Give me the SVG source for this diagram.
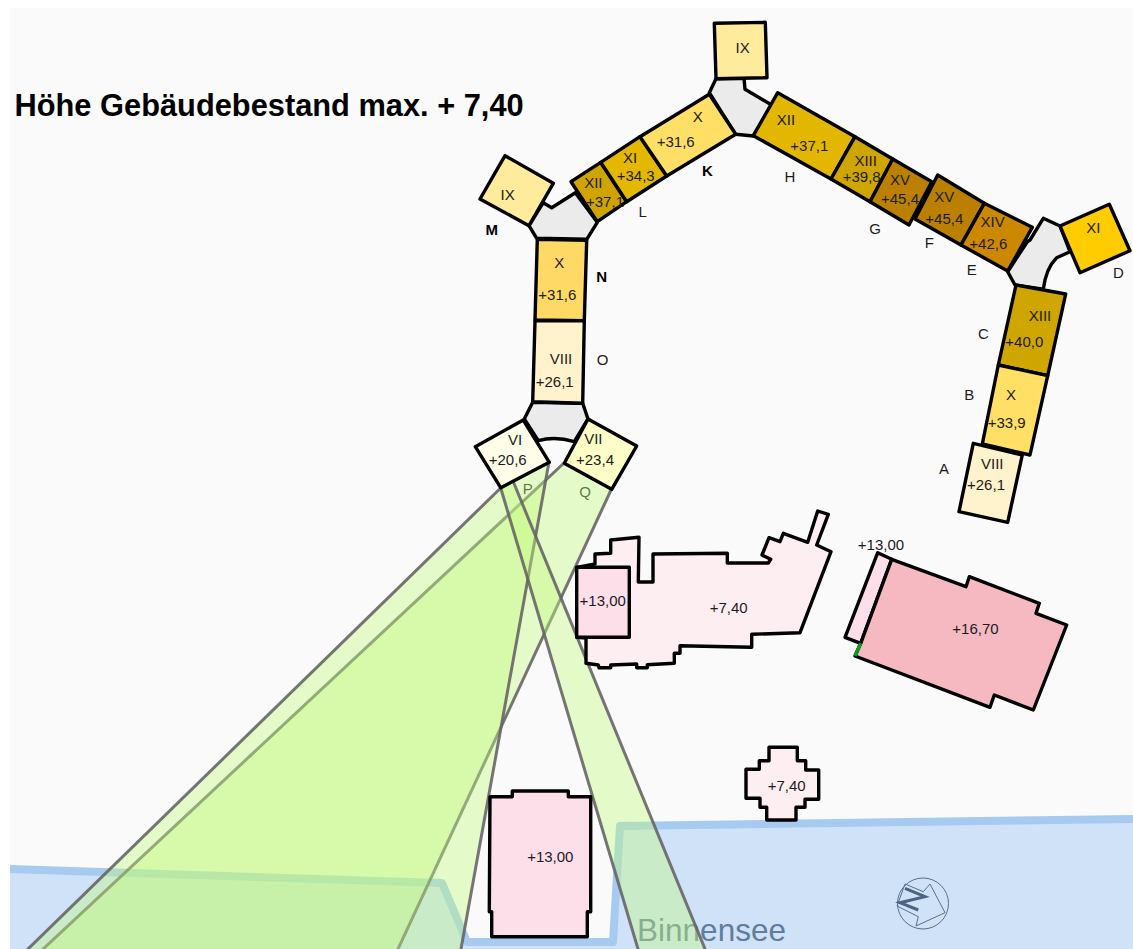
<svg xmlns="http://www.w3.org/2000/svg" width="1133" height="949" viewBox="0 0 1133 949">
<style>
.b{stroke:#000;stroke-width:3.4;stroke-linejoin:round}
.g{fill:#ebebeb;stroke:#000;stroke-width:3.4;stroke-linejoin:round}
.s{fill:#c3fb7d;fill-opacity:.4;stroke:#666;stroke-opacity:.9;stroke-width:3;stroke-linejoin:round}
text{font-family:"Liberation Sans",Arial,sans-serif;font-size:15px;fill:#1c1c1c;text-anchor:middle;dominant-baseline:central}
.l{font-size:15px}
.lb{font-size:15px;font-weight:bold;fill:#000}
.ix{fill:#ffeb9c}.x{fill:#ffdf66}.viii{fill:#fff3cd}
</style>
<rect width="1133" height="949" fill="#fff"/>
<rect x="10" y="8" width="1123" height="941" fill="#fafafa"/>
<g id="water">
<path d="M10 869L442 883L467 942L613 942L620 826L1133 819L1133 949L10 949Z" fill="#cfe2f8"/>
<path d="M10 869L442 883L467 942L613 942L620 826L1133 819" fill="none" stroke="#a6caf0" stroke-width="8" stroke-linejoin="round"/>
<text x="711.5" y="930" style="font-size:31.5px;fill:#5f7d9c">Binnensee</text>
</g>
<g id="north-arrow" fill="none" stroke="#5a6f88" stroke-width="1">
<circle cx="923" cy="903.5" r="25.5"/>
<path d="M905 884L923.3 891.7L930 884L945 912.7L916 926L918.3 916.7L897 906Z"/>
<path d="M905 888.3L925 896.7L900 902.7L918.3 910" stroke="#4d6480" stroke-width="3"/>
</g>
<g id="labels-under">
<text class="l" x="527.7" y="488.3">P</text>
<text class="l" x="585" y="491">Q</text>
</g>
<g id="connectors">
<polygon class="s" points="564,463 611.5,489 390.6,965 26,965"/>
<polygon class="s" points="500.7,488 549,462 458.1,965 11.6,965"/>
<polygon class="s" points="500.7,488 513,481 711.6,965 642.8,965"/>
<path class="g" d="M716 78.7L709.3 92.7L735.7 134.3L753.3 136L771.7 105L745 89.3L744 78.3Z"/>
<path class="g" d="M529 225.7L536.7 238.3L586.7 239.3L597.3 222.3L575.3 192.7L551.7 207.7L543.3 202.7Z"/>
<path class="g" d="M532.7 402.3L524.3 419L538.3 440.7Q555 436 574.3 441.7L588 419L582.7 403.3Z"/>
<path class="g" d="M1027.3 241.7L1030 240L1043.3 218.3L1060 226L1070 251.7L1056.7 257.7Q1046 268 1043.3 289.3L1015 285L1007.7 271.7Z"/>
</g>
<g id="building-main">
<polygon class="b" fill="#fdeef2" points="595,564 595,554 610.7,553.3 610.7,540 639,537.3 638.3,582 653,582 653,554 727.3,553.3 727.3,563 768.3,563 770.7,559.3 762,555 769,537.7 780,541.7 783.3,533.3 807.7,542.3 817.7,511 828.3,514.3 816.7,545 831,551.7 800,632.7 751.7,634.3 751.7,647.3 680,645.7 680,653.3 674.3,653.3 674.3,663.3 647.3,664.7 647.3,667.7 636.7,667.7 636.7,664 610.7,665 610.7,667.7 599,667.7 598.3,665 586,663.3 586,638 576.7,637.3 576.7,567.3"/>
<text x="728.7" y="607">+7,40</text>
</g>
<g id="building-13a">
<rect class="b" fill="#fddfea" x="576.7" y="567.3" width="52.6" height="70"/>
<text x="602.7" y="600">+13,00</text>
</g>
<g id="building-strip">
<polygon class="b" fill="#fddfea" points="877.7,552.7 891.7,559.3 860.7,643.3 845,637.3"/>
<text x="881" y="544.3">+13,00</text>
</g>
<g id="building-167">
<polygon class="b" fill="#f6b9c2" points="891.7,559.3 966,586.7 969.3,576.7 1039.3,603.3 1036,613.3 1066.7,625 1033.3,710 994.3,695 990,707.3 855,656 860.7,643.3"/>
<path d="M855 656L860.7 643.3" stroke="#0a9a20" stroke-width="3.4" fill="none"/>
<text x="975.5" y="628.3">+16,70</text>
</g>
<g id="building-cross">
<polygon class="b" fill="#fdeef2" points="769,747.3 797.3,747.3 797.3,760.7 805.7,760.7 805.7,770 818.7,770 818.7,799.3 805,799.3 805,807.3 796,807.3 796,820 766.7,820 766.7,807.3 760,807.3 760,798.3 746,798.3 746,769.3 759.3,769.3 759.3,760.7 769,760.7"/>
<text x="786.7" y="785">+7,40</text>
</g>
<g id="building-lake">
<polygon class="b" fill="#fddfea" points="490,796.7 512.3,796.7 512.3,791 568.3,791 568.3,796.7 590.7,796.7 590.7,911.7 587.3,911.7 587.3,936.7 491.7,936.7 491.7,911.7 489.3,911.7"/>
<text x="550.3" y="856">+13,00</text>
</g>
<g id="node-ix-top">
<polygon class="b ix" points="714.3,23.3 765.3,22.3 767,77.7 716,78.7"/>
<text x="742.7" y="47.3">IX</text>
</g>
<g id="node-xii-l">
<polygon class="b" fill="#cfa400" points="600.7,162.3 626.7,201.7 597.3,221.7 571,181.7"/>
<text x="593.3" y="182.3">XII</text>
</g>
<g id="node-xi-l">
<polygon class="b" fill="#e5b800" points="640,136.7 666.7,176 626.7,201.7 600.7,162.3"/>
<text x="630" y="157.7">XI</text>
<text x="635.7" y="175.7">+34,3</text>
<text x="605" y="201.7">+37,1</text>
</g>
<g id="node-x-k">
<polygon class="b x" points="709.3,94.3 735.7,134.3 666.7,176 640,136.7"/>
<text x="697.7" y="116">X</text>
<text x="675.7" y="141.7">+31,6</text>
</g>
<g id="node-ix-m">
<polygon class="b ix" points="505,155.7 553.3,183.3 529,225.7 480,199"/>
<text x="507.7" y="194.3">IX</text>
</g>
<g id="node-x-n">
<polygon class="b" fill="#ffd966" points="537.3,239.3 586.7,240.3 584.3,320.7 535,320"/>
<text x="559.3" y="262.3">X</text>
<text x="557.3" y="294.3">+31,6</text>
</g>
<g id="node-viii-o">
<polygon class="b viii" points="535,320.7 584.3,320.7 582.7,403.3 532.7,401.7"/>
<text x="561" y="358.3">VIII</text>
<text x="554.7" y="381">+26,1</text>
</g>
<g id="node-vi">
<polygon class="b" fill="#fefee8" points="523.3,420 549.3,462.3 500.7,487.7 475.3,446.7"/>
<text x="515" y="439.3">VI</text>
<text x="507.7" y="459">+20,6</text>
</g>
<g id="node-vii">
<polygon class="b" fill="#fdfdc8" points="588,419 636.7,446 611.7,489.3 564.3,463.3"/>
<text x="593.3" y="438.3">VII</text>
<text x="595" y="459">+23,4</text>
</g>
<g id="node-xii-h">
<polygon class="b" fill="#e3b700" points="777.7,92.7 855,136.7 831,179 753.3,135.7"/>
<text x="786" y="119.3">XII</text>
<text x="809.3" y="145">+37,1</text>
</g>
<g id="node-xiii-g">
<polygon class="b" fill="#cfa500" points="855,136.7 892.7,159 870,201.7 831,179"/>
<text x="865.7" y="160.7">XIII</text>
<text x="861.7" y="176">+39,8</text>
</g>
<g id="node-xv-g">
<polygon class="b" fill="#bb8000" points="892.7,159 931.7,181.7 909,225 870,201.7"/>
<text x="900" y="179">XV</text>
<text x="900" y="198.3">+45,4</text>
</g>
<g id="node-xv-f">
<polygon class="b" fill="#bb8000" points="937.7,175 984.3,203.3 961,245 915,219"/>
<text x="944.3" y="196.7">XV</text>
<text x="944.3" y="218.3">+45,4</text>
</g>
<g id="node-xiv-e">
<polygon class="b" fill="#cc8800" points="984.3,203.3 1032.3,227.3 1007.7,271 961,245"/>
<text x="992.7" y="221.7">XIV</text>
<text x="988.3" y="243.3">+42,6</text>
</g>
<g id="node-xi-d">
<polygon class="b" fill="#ffcc00" points="1060,226 1109.3,204.3 1130,250.7 1080,272.7"/>
<text x="1093.3" y="227.7">XI</text>
</g>
<g id="node-xiii-c">
<polygon class="b" fill="#cfa500" points="1016,285 1065.7,294 1047.7,375.7 998.3,365"/>
<text x="1040" y="315.7">XIII</text>
<text x="1024.3" y="341">+40,0</text>
</g>
<g id="node-x-b">
<polygon class="b x" points="998.3,365 1047.7,375.7 1030,455 982.3,444"/>
<text x="1011" y="394.3">X</text>
<text x="1006.7" y="422.3">+33,9</text>
</g>
<g id="node-viii-a">
<polygon class="b viii" points="973.3,443.3 1022.3,455 1007.7,522.3 959,511.7"/>
<text x="992.3" y="463.3">VIII</text>
<text x="986" y="484.3">+26,1</text>
</g>
<g id="labels">
<text class="lb" x="491.7" y="229">M</text>
<text class="lb" x="707.3" y="170">K</text>
<text class="l" x="642.7" y="211.7">L</text>
<text class="l" x="790" y="176.7">H</text>
<text class="l" x="875" y="228.3">G</text>
<text class="l" x="929.3" y="242.7">F</text>
<text class="l" x="971.7" y="269.3">E</text>
<text class="l" x="1118.3" y="272.7">D</text>
<text class="l" x="983.3" y="333.3">C</text>
<text class="l" x="969.3" y="394">B</text>
<text class="l" x="944" y="468.3">A</text>
<text class="lb" x="601.7" y="276">N</text>
<text class="l" x="602.7" y="359.3">O</text>
</g>
<text x="14.5" y="116" style="font-size:30.8px;font-weight:bold;fill:#000;text-anchor:start;dominant-baseline:auto" stroke="none">Höhe Gebäudebestand max. + 7,40</text>
</svg>
